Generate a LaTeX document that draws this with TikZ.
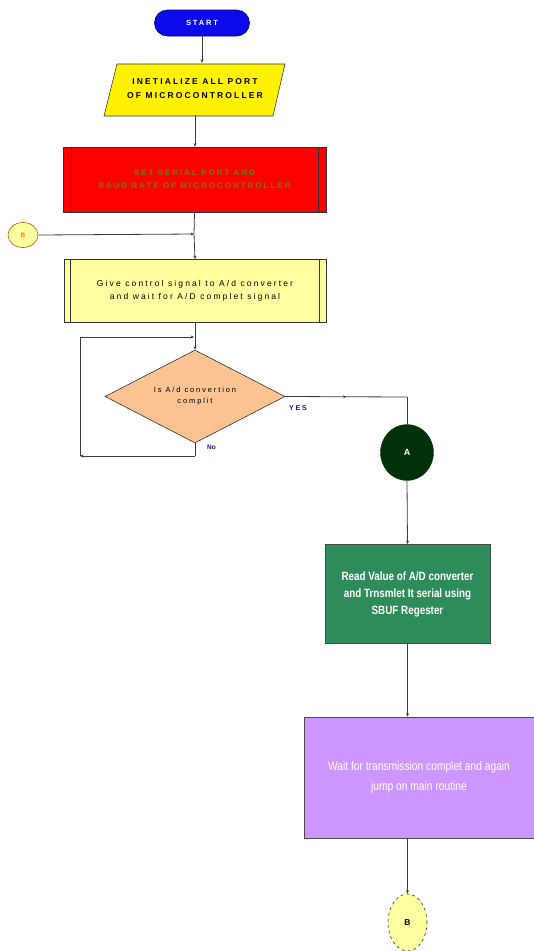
\documentclass[tikz,border=0pt]{standalone}
\usepackage{fontspec}
\setmainfont{Liberation Sans}
\newfontfamily\spaced[LetterSpace=25]{Liberation Sans}
\newfontfamily\narrow[FakeStretch=0.82]{Liberation Sans}
\usetikzlibrary{shapes.geometric,arrows.meta,decorations.markings}
\definecolor{startblue}{RGB}{10,10,235}
\definecolor{paleyellow}{RGB}{255,255,160}
\definecolor{peach}{RGB}{250,195,145}
\definecolor{darkgreenA}{RGB}{0,50,10}
\definecolor{seagreen}{RGB}{46,140,90}
\definecolor{lilac}{RGB}{205,150,255}
\definecolor{olivetext}{RGB}{120,120,0}
\definecolor{linegray}{RGB}{60,60,60}
\definecolor{navytext}{RGB}{20,20,140}
\tikzset{
  box/.style={draw=black!80, line width=0.6pt, inner sep=0pt, align=center},
  conn/.style={draw=linegray, line width=0.8pt, -{Stealth[length=3.5pt,width=3pt]}},
  line/.style={draw=linegray, line width=0.8pt},
  midarrow/.style={decoration={markings, mark=at position #1 with {\arrow{Stealth[length=3pt,width=3pt]}}}, postaction={decorate}},
}
\begin{document}
\begin{tikzpicture}[x=1pt,y=-1pt]
\useasboundingbox (0,0) rectangle (534,951);
% START
\node[box, rounded corners=13pt, fill=startblue, draw=blue!40!black, minimum width=95pt, minimum height=26pt, text=white, font=\spaced\fontsize{7.5}{8}\selectfont\bfseries] (start) at (202,23) {START};
% init parallelogram
\fill[yellow, draw=black!80, line width=0.6pt] (104,116) -- (117,64) -- (285,64) -- (273,116) -- cycle;
\node[inner sep=0pt, minimum width=168pt, minimum height=52pt, align=center, font=\spaced\fontsize{8.5}{14}\selectfont\bfseries] (init) at (195,89) {INETIALIZE ALL PORT\\OF MICROCONTROLLER};
% red predefined process
\node[box, fill=red, minimum width=263pt, minimum height=65pt, text=olivetext, font=\spaced\fontsize{8}{13}\selectfont\bfseries] (serial) at (194.5,179.5) {SET SERIAL PORT AND\\BAUD RATE OF MICROCONTROLLER};
\draw[black!80, line width=0.6pt] ([xshift=9pt]serial.north west) -- ([xshift=9pt]serial.south west);
\draw[black!80, line width=0.6pt] ([xshift=-8pt]serial.north east) -- ([xshift=-8pt]serial.south east);
% small B connector
\node[draw=orange!70!black, line width=0.6pt, ellipse, fill=paleyellow, minimum width=30pt, minimum height=25pt, inner sep=0pt, text=orange, font=\fontsize{6.5}{7}\selectfont\bfseries] (bin) at (23,235) {B};
% give control box
\node[box, fill=paleyellow, minimum width=262pt, minimum height=63pt, font=\spaced\fontsize{8.5}{13}\selectfont] (give) at (195,291) {Give control signal to A/d converter\\and wait for A/D complet signal};
\draw[black!80, line width=0.6pt] ([xshift=7pt]give.north west) -- ([xshift=7pt]give.south west);
\draw[black!80, line width=0.6pt] ([xshift=-7pt]give.north east) -- ([xshift=-7pt]give.south east);
% diamond
\node[diamond, aspect=2.2, draw=black!80, line width=0.6pt, fill=peach, minimum width=180pt, minimum height=93pt, inner sep=0pt, align=center, font=\spaced\fontsize{7.5}{11}\selectfont] (dec) at (195,396.5) {Is A/d convertion\\complit};
% A connector
\node[ellipse, draw=darkgreenA, fill=darkgreenA, minimum width=53pt, minimum height=56pt, inner sep=0pt, text=white, font=\fontsize{9}{10}\selectfont\bfseries] (A) at (407,452.5) {A};
% green box
\node[box, fill=seagreen, draw=black!70, minimum width=165pt, minimum height=99pt, text=white, font=\narrow\fontsize{12}{17}\selectfont\bfseries] (read) at (407.5,594) {Read Value of A/D converter\\and Trnsmlet It serial using\\SBUF Regester};
% purple box
\node[box, fill=lilac, draw=black!70, minimum width=230pt, minimum height=121pt, text=white, font=\narrow\fontsize{12.5}{20}\selectfont] (wait) at (419,777.5) {Wait for transmission complet and again\\jump on main routine};
% B bottom connector
\node[ellipse, dashed, draw=black!80, line width=0.6pt, fill=paleyellow, minimum width=39pt, minimum height=57pt, inner sep=0pt, font=\fontsize{8.5}{9}\selectfont\bfseries] (bout) at (407.5,922.5) {B};
% labels
\node[text=navytext, font=\spaced\fontsize{7}{8}\selectfont\bfseries, anchor=west, inner sep=0pt] (yes) at (289,408) {YES};
\node[text=navytext, font=\fontsize{6.5}{7}\selectfont\bfseries, anchor=west, inner sep=0pt] (no) at (207,447) {No};
% junction coordinates
\coordinate (jb) at (194,234);
\coordinate (jl) at (194,337);
\coordinate (lt) at (80,337);
\coordinate (lb) at (80,456);
\coordinate (db) at (195,456);
\coordinate (yr) at (407,397);
% connectors
\draw[conn] (start.south) -- (start.south |- init.north);
\draw[conn] (init.south) -- (init.south |- serial.north);
\draw[line] (serial.south) -- (jb);
\draw[conn] (jb) -- (give.north);
\draw[conn] (bin.east) -- (jb);
\draw[conn] (give.south) -- (dec.north);
\draw[line] (dec.south) -- (db);
\draw[conn] (db) -- (lb);
\draw[line] (lb) -- (lt);
\draw[conn] (lt) -- (jl);
\draw[line, midarrow=0.5] (dec.east) -- (yr);
\draw[line] (yr) -- (A.north);
\draw[conn] (A.south) -- (read.north);
\draw[conn] (read.south) -- (read.south |- wait.north);
\draw[conn] (bout.north |- wait.south) -- (bout.north);
\end{tikzpicture}
\end{document}
